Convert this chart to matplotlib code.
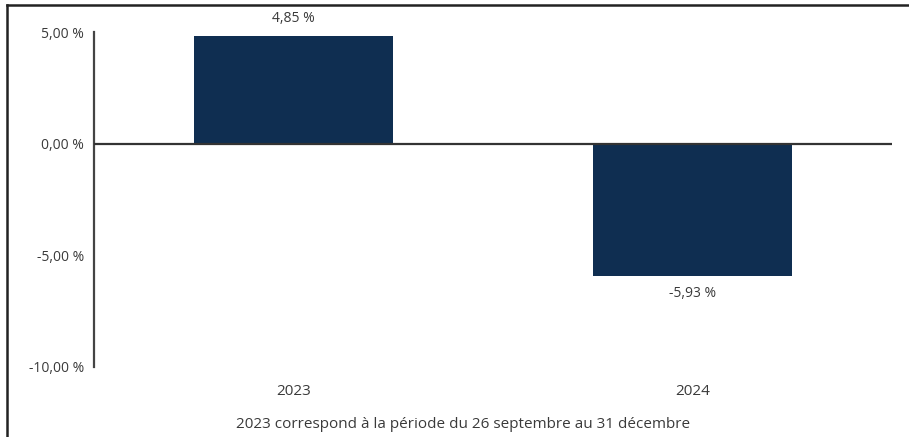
import matplotlib.pyplot as plt
from matplotlib.lines import Line2D

years = ["2023", "2024"]
returns = [4.85, -5.93]
ticks = [5, 0, -5, -10]
tick_labels = ["5,00 %", "0,00 %", "-5,00 %", "-10,00 %"]
bar_labels = ["4,85 %", "-5,93 %"]
note = "2023 correspond à la période du 26 septembre au 31 décembre"

plt.rcParams['font.family'] = ['Open Sans', 'DejaVu Sans']
txt = '#3a3a3a'
navy = '#0f2e51'
fs = 10

fig = plt.figure(figsize=(9.09, 4.37), dpi=100)
W, H = 909, 437
ax = fig.add_axes([94 / W, 1 - 367 / H, (892 - 94) / W, (367 - 32.5) / H])

x = list(range(len(years)))
ax.bar(x, returns, width=0.5, color=navy, zorder=2)
ax.set_xlim(-0.5, 1.5)
ax.set_ylim(-10, 5)
ax.axhline(0, color='#333333', lw=1.6, zorder=3)

for xi, v, lab in zip(x, returns, bar_labels):
    if v >= 0:
        ax.text(xi, v + 0.45, lab, ha='center', va='bottom', fontsize=fs, color=txt, clip_on=False)
    else:
        ax.text(xi, v - 0.45, lab, ha='center', va='top', fontsize=fs, color=txt, clip_on=False)

ax.set_yticks(ticks)
ax.set_yticklabels(tick_labels, fontsize=fs, color=txt)
ax.set_xticks(x)
ax.set_xticklabels(years, fontsize=11, color=txt)
ax.tick_params(axis='both', length=0)
ax.tick_params(axis='y', pad=7)
ax.tick_params(axis='x', pad=12)

for s in ['top', 'right', 'bottom']:
    ax.spines[s].set_visible(False)
ax.spines['left'].set_color('#444444')
ax.spines['left'].set_linewidth(1.6)

fig.text(463 / W, 1 - 425 / H, note, ha='center', va='center', fontsize=11, color=txt)

# outer frame (top and left edges)
fig.add_artist(Line2D([7.5 / W, 1], [1 - 4.5 / H, 1 - 4.5 / H], color='#222222', lw=1.8, transform=fig.transFigure))
fig.add_artist(Line2D([7.5 / W, 7.5 / W], [1 - 4.5 / H, 0], color='#222222', lw=1.8, transform=fig.transFigure))

fig.savefig('out.png', dpi=100)
